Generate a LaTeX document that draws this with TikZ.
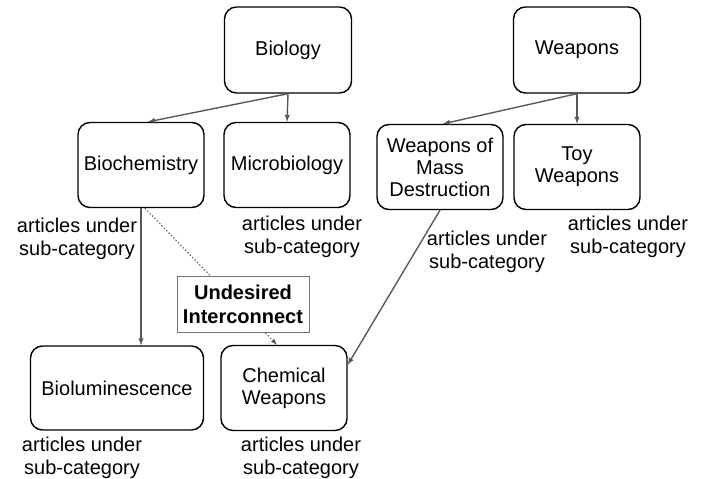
\documentclass[tikz,border=0pt]{standalone}
\usepackage{fontspec}
\setmainfont{Liberation Sans}
\usepackage{tikz}

\begin{document}
\begin{tikzpicture}[
  x=1pt, y=-1pt,
  cat/.style={draw, rounded corners=12pt, line width=1.4pt, align=center,
    minimum width=126pt, minimum height=85pt, inner sep=2pt,
    font=\fontsize{20}{22}\selectfont},
  note/.style={align=center, inner sep=0pt, font=\fontsize{20}{23}\selectfont},
  link/.style={draw=black!65, line width=1.4pt, -latex},
  warn/.style={draw=black!55, fill=white, line width=1pt, align=center,
    minimum width=132pt, minimum height=56pt, inner sep=4pt,
    font=\fontsize{20}{24}\selectfont\bfseries}
]
\useasboundingbox (0,0) rectangle (707,479);

\node[cat, minimum width=127pt, minimum height=86pt] (bio) at (288,50) {Biology};
\node[cat] (biochem) at (141,165) {Biochemistry};
\node[cat] (micro) at (287,165) {Microbiology};
\node[cat, minimum width=127pt, minimum height=86pt] (weap) at (577,50) {Weapons};
\node[cat] (wmd) at (440,167) {Weapons of\\Mass\\Destruction};
\node[cat] (toy) at (577,167) {Toy\\Weapons};
\node[cat, minimum width=173pt, minimum height=84pt] (biolum) at (117,388) {Bioluminescence};
\node[cat] (chem) at (284,388) {Chemical\\Weapons};

\node[note] (t1) at (77,239) {articles under\\sub-category};
\node[note] (t2) at (302,237) {articles under\\sub-category};
\node[note] (t3) at (487,252) {articles under\\sub-category};
\node[note] (t4) at (628,237) {articles under\\sub-category};
\node[note] (t5) at (82,458) {articles under\\sub-category};
\node[note] (t6) at (301,458) {articles under\\sub-category};

\draw[link] (bio.south) -- ([xshift=7pt]biochem.north);
\draw[link] (bio.south) -- (micro.north);
\draw[link] (weap.south) -- ([xshift=3pt]wmd.north);
\draw[link] (weap.south) -- (toy.north);
\draw[link] (biochem.south) -- (biochem.south |- biolum.north);
\draw[link] (wmd.south) -- (chem.20);
\draw[link, dotted, line width=1.1pt] ([xshift=4pt]biochem.south) -- ([xshift=-7pt]chem.north);

% drawn last so the dotted link runs behind it
\node[warn] (undesired) at (243,304) {Undesired\\Interconnect};

\end{tikzpicture}
\end{document}
